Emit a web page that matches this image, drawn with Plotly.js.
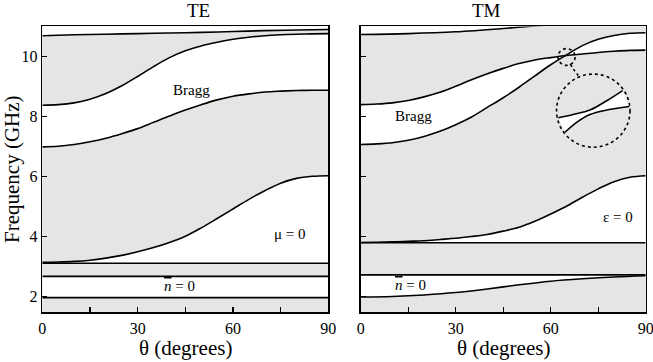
<!DOCTYPE html>
<html>
<head>
<meta charset="utf-8">
<script src="https://cdn.plot.ly/plotly-3.0.1.min.js"></script>
<style>
  html, body { margin: 0; padding: 0; background: #fff; }
  #chart { width: 653px; height: 362px; }
</style>
</head>
<body>
<div id="chart"></div>
<script>
// Angles (degrees) the curves were read at
const grid = [0, 5, 10, 15, 20, 25, 30, 35, 40, 45, 50, 55, 60, 65, 70, 75, 80, 85, 90];
const coarse = [0, 10, 20, 30, 40, 50, 60, 70, 80, 90];
const flat = [0, 90];

// TE band edges (GHz)
const teTop = [10.69, 10.72, 10.74, 10.76, 10.78, 10.8, 10.83, 10.86, 10.88, 10.9];
const teBraggHi = [8.37, 8.39, 8.45, 8.57, 8.76, 9.02, 9.33, 9.66, 9.96, 10.19, 10.35, 10.47, 10.57, 10.64, 10.69, 10.72, 10.74, 10.75, 10.76];
const teBraggLo = [6.98, 7.0, 7.06, 7.15, 7.27, 7.42, 7.59, 7.8, 8.01, 8.21, 8.39, 8.55, 8.67, 8.75, 8.81, 8.84, 8.86, 8.87, 8.87];
const teMu = [3.13, 3.14, 3.16, 3.2, 3.27, 3.36, 3.48, 3.62, 3.79, 4.0, 4.28, 4.59, 4.91, 5.23, 5.52, 5.77, 5.93, 6.0, 6.02];
const teMuBase = [3.1, 3.1];
const teNbarHi = [2.66, 2.66];
const teNbarLo = [1.95, 1.95];

// TM band edges (GHz)
const tmTopTheta = [0, 15, 30, 45, 53, 70, 90];
const tmTop = [10.73, 10.76, 10.82, 10.93, 11.0, 11.12, 11.2];
const tmBraggA = [8.39, 8.41, 8.45, 8.53, 8.65, 8.8, 9.0, 9.22, 9.42, 9.6, 9.76, 9.88, 9.96, 10.03, 10.08, 10.13, 10.17, 10.2, 10.21];
const tmBraggB = [7.06, 7.08, 7.12, 7.2, 7.33, 7.5, 7.72, 7.98, 8.3, 8.62, 8.97, 9.35, 9.72, 10.05, 10.36, 10.57, 10.7, 10.77, 10.79];
const tmEps = [3.79, 3.8, 3.81, 3.83, 3.85, 3.89, 3.93, 3.99, 4.06, 4.17, 4.3, 4.5, 4.74, 5.0, 5.3, 5.58, 5.82, 5.97, 6.02];
const tmEpsBase = [3.78, 3.78];
const tmNbarHi = [2.71, 2.71];
const tmNbar = [1.97, 1.99, 2.04, 2.12, 2.24, 2.38, 2.5, 2.58, 2.64, 2.68];

// magnified view of the TM anticrossing (inset)
const insetUpTheta = [62.4, 67.1, 72.4, 77.7, 82.7];
const insetUp = [7.95, 8.06, 8.21, 8.52, 8.86];
const insetLoTheta = [64.5, 68.2, 72.4, 77.7, 84.8];
const insetLo = [7.47, 7.8, 8.06, 8.21, 8.33];
const linkTheta = [66.1, 67.3, 68.7];
const linkFreq = [9.75, 9.56, 9.36];

const skyEdge = [11.8, 11.8];
const GRAY = '#e5e5e5';
const FONT = 'Liberation Serif';

function fillBetween(xLo, yLo, xHi, yHi, xa, ya) {
    const base = {xaxis: xa, yaxis: ya, mode: 'lines', hoverinfo: 'skip', showlegend: false};
    return [
        Object.assign({x: xLo, y: yLo, line: {width: 0, shape: 'spline'}}, base),
        Object.assign({x: xHi, y: yHi, line: {width: 0, shape: 'spline'}, fill: 'tonexty', fillcolor: '#fff'}, base)
    ];
}

function curve(x, y, xa, ya, dash) {
    return {
        x: x, y: y, xaxis: xa, yaxis: ya, mode: 'lines',
        line: {color: '#000', width: 1.6, shape: 'spline', dash: dash || 'solid'},
        hoverinfo: 'skip', showlegend: false
    };
}

const traces = [
    // TE white gaps
    ...fillBetween(flat, teNbarLo, flat, teNbarHi, 'x', 'y'),
    ...fillBetween(flat, teMuBase, grid, teMu, 'x', 'y'),
    ...fillBetween(grid, teBraggLo, grid, teBraggHi, 'x', 'y'),
    ...fillBetween(coarse, teTop, flat, skyEdge, 'x', 'y'),
    // TM white gaps
    ...fillBetween(coarse, tmNbar, flat, tmNbarHi, 'x2', 'y2'),
    ...fillBetween(flat, tmEpsBase, grid, tmEps, 'x2', 'y2'),
    ...fillBetween(grid, tmBraggB, grid, tmBraggA, 'x2', 'y2'),
    ...fillBetween(tmTopTheta, tmTop, flat, skyEdge, 'x2', 'y2'),
    ...fillBetween(insetLoTheta, insetLo, insetUpTheta, insetUp, 'x2', 'y2'),

    // TE lines
    curve(flat, teNbarLo, 'x', 'y'),
    curve(flat, teNbarHi, 'x', 'y'),
    curve(flat, teMuBase, 'x', 'y'),
    curve(grid, teMu, 'x', 'y'),
    curve(grid, teBraggLo, 'x', 'y'),
    curve(grid, teBraggHi, 'x', 'y'),
    curve(coarse, teTop, 'x', 'y'),
    // TM lines
    curve(coarse, tmNbar, 'x2', 'y2'),
    curve(flat, tmNbarHi, 'x2', 'y2'),
    curve(flat, tmEpsBase, 'x2', 'y2'),
    curve(grid, tmEps, 'x2', 'y2'),
    curve(grid, tmBraggB, 'x2', 'y2'),
    curve(grid, tmBraggA, 'x2', 'y2'),
    curve(tmTopTheta, tmTop, 'x2', 'y2'),
    curve(insetUpTheta, insetUp, 'x2', 'y2'),
    curve(insetLoTheta, insetLo, 'x2', 'y2'),
    curve(linkTheta, linkFreq, 'x2', 'y2', 'dot')
];

const xCommon = {
    range: [0, 90],
    tickvals: [0, 15, 30, 45, 60, 75, 90],
    ticktext: ['0', '', '30', '', '60', '', '90'],
    ticks: 'inside', ticklen: 5, tickwidth: 1.3, tickcolor: '#000',
    ticklabelstandoff: 1,
    ticklabeloverflow: 'allow',
    showline: true, mirror: true, linecolor: '#000', linewidth: 1.6,
    showgrid: false, zeroline: false, fixedrange: true,
    tickfont: {family: FONT, size: 16, color: '#000'}
};

const yCommon = {
    range: [1.47, 11.0],
    tickvals: [2, 4, 6, 8, 10],
    ticks: 'inside', ticklen: 5, tickwidth: 1.3, tickcolor: '#000',
    showline: true, mirror: true, linecolor: '#000', linewidth: 1.6,
    showgrid: false, zeroline: false, fixedrange: true,
    tickfont: {family: FONT, size: 16, color: '#000'}
};

const nbar = '<span style="text-decoration:overline"><i>n</i></span> = 0';
const titleFont = {family: FONT, size: 21, color: '#000'};

const layout = {
    width: 653,
    height: 362,
    margin: {l: 0, r: 0, t: 0, b: 0},
    paper_bgcolor: '#fff',
    plot_bgcolor: GRAY,
    showlegend: false,
    font: {family: FONT, color: '#000'},
    xaxis: Object.assign({}, xCommon, {domain: [0.0648, 0.5028], anchor: 'y'}),
    yaxis: Object.assign({}, yCommon, {
        domain: [0.138, 0.927], anchor: 'x',
        title: {text: 'Frequency (GHz)', font: titleFont, standoff: 2}
    }),
    xaxis2: Object.assign({}, xCommon, {domain: [0.5524, 0.9888], anchor: 'y2'}),
    yaxis2: Object.assign({}, yCommon, {domain: [0.138, 0.927], anchor: 'x2', showticklabels: false}),
    shapes: [
        {type: 'circle', xref: 'x2', yref: 'y2', x0: 62.3, x1: 67.7, y0: 9.7, y1: 10.26,
         line: {color: '#000', width: 1.6, dash: 'dot'}},
        {type: 'circle', xref: 'x2', yref: 'y2', x0: 61.85, x1: 85.05, y0: 6.97, y1: 9.41,
         line: {color: '#000', width: 1.6, dash: 'dot'}}
    ],
    annotations: [
        {text: 'TE', xref: 'paper', yref: 'paper', x: 185 / 653, y: 1 - 11 / 362, yanchor: 'middle',
         showarrow: false, font: {family: FONT, size: 19}},
        {text: 'TM', xref: 'paper', yref: 'paper', x: 503 / 653, y: 1 - 11 / 362, yanchor: 'middle',
         showarrow: false, font: {family: FONT, size: 19}},
        {text: 'θ (degrees)', xref: 'x domain', yref: 'paper', x: 0.5, y: 1 - 348 / 362, yanchor: 'middle',
         showarrow: false, font: titleFont},
        {text: 'θ (degrees)', xref: 'x2 domain', yref: 'paper', x: 0.5, y: 1 - 348 / 362, yanchor: 'middle',
         showarrow: false, font: titleFont},
        {text: 'Bragg', xref: 'x', yref: 'y', x: 47, y: 8.89, showarrow: false, font: {family: FONT, size: 15}},
        {text: 'μ = 0', xref: 'x', yref: 'y', x: 77.9, y: 4.06, showarrow: false, font: {family: FONT, size: 15}},
        {text: nbar, xref: 'x', yref: 'y', x: 43.3, y: 2.33, showarrow: false, font: {family: FONT, size: 15}},
        {text: 'Bragg', xref: 'x2', yref: 'y2', x: 16.6, y: 8.0, showarrow: false, font: {family: FONT, size: 15}},
        {text: 'ε = 0', xref: 'x2', yref: 'y2', x: 81.2, y: 4.63, showarrow: false, font: {family: FONT, size: 15}},
        {text: nbar, xref: 'x2', yref: 'y2', x: 15.6, y: 2.36, showarrow: false, font: {family: FONT, size: 15}}
    ]
};

Plotly.newPlot('chart', traces, layout, {staticPlot: true, displayModeBar: false});
</script>
</body>
</html>
